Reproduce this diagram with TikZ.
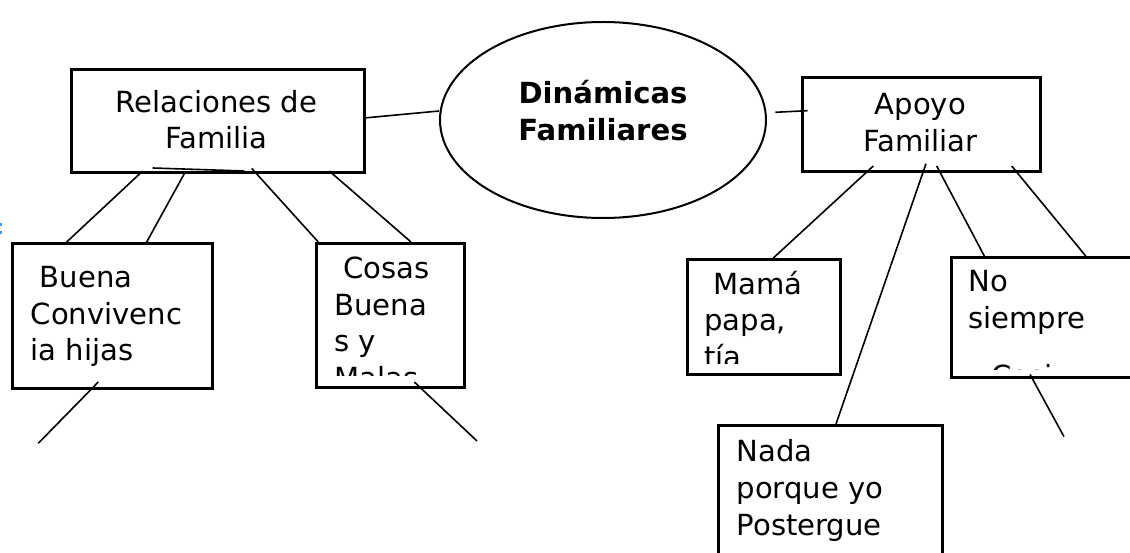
\documentclass[tikz,border=0pt]{standalone}
\usepackage{fontspec}
\setmainfont{DejaVu Sans}
\usetikzlibrary{shapes.geometric}
\definecolor{fragblue}{RGB}{79,146,222}
\begin{document}
\begin{tikzpicture}[x=1pt,y=-1pt,
  box/.style={draw=black,line width=2.7pt,rectangle,inner sep=0pt,anchor=north west},
  conn/.style={draw=black,line width=1.6pt},
  txt/.style={inner sep=0pt,anchor=base west,font=\fontsize{29.1}{36.6}\selectfont},
  ctxt/.style={txt,anchor=base},
  btxt/.style={ctxt,font=\fontsize{29.1}{36.6}\selectfont\bfseries}]
\clip (0,0) rectangle (1130,553);
\useasboundingbox (0,0) rectangle (1130,553);

% boxes
\node[box,minimum width=293pt,minimum height=103pt] (rel) at (70,68) {};
\node[draw,ellipse,line width=2pt,minimum width=326pt,minimum height=196pt,inner sep=0pt] (dyn) at (603,120) {};
\node[box,minimum width=238pt,minimum height=94pt] (apoyo) at (801,76) {};
\node[box,minimum width=200pt,minimum height=145pt] (buena) at (11,242) {};
\node[box,minimum width=148pt,minimum height=144pt] (cosas) at (315,242) {};
\node[box,minimum width=153pt,minimum height=115pt] (mama) at (686,258) {};
\node[box,minimum width=220pt,minimum height=120pt] (nosi) at (950,256) {};
\node[box,minimum width=224pt,minimum height=160pt] (nada) at (717,424) {};

% texts
\node[ctxt] (rel1) at (216.5,112.2) {Relaciones de};
\node[ctxt] (rel2) at (216.5,148.2) {Familia};
\node[btxt] (dyn1) at (603,104) {Dinámicas};
\node[btxt] (dyn2) at (603,140.7) {Familiares};
\node[ctxt] (apo1) at (920.3,115) {Apoyo};
\node[ctxt] (apo2) at (920.5,151.2) {Familiar};
\node[txt] (bue1) at (30.5,287.3) {\ Buena};
\node[txt] (bue2) at (30.5,325) {Convivenc};
\node[txt] (bue3) at (30.5,360.7) {ia hijas};
\begin{scope}
\clip (315,242) rectangle (463,375);
\node[txt] (cos1) at (334.2,278.3) {\ Cosas};
\node[txt] (cos2) at (334.2,315.7) {Buena};
\node[txt] (cos3) at (334.2,351.7) {s y};
\node[txt] (cos4) at (334.2,388.3) {Malas};
\end{scope}
\begin{scope}
\clip (686,258) rectangle (839,363.5);
\node[txt] (mam1) at (704.1,294.3) {\ Mamá};
\node[txt] (mam2) at (704.1,330.7) {papa,};
\node[txt] (mam3) at (704.1,367.3) {tía};
\end{scope}
\begin{scope}
\clip (950,256) rectangle (1130,369.5);
\node[txt] (nos1) at (968.2,291.7) {No};
\node[txt] (nos2) at (968.2,328.3) {siempre};
\node[txt] (nos3) at (991.4,386) {Casi};
\end{scope}
\node[txt] (nad1) at (736.5,461.7) {Nada};
\node[txt] (nad2) at (736.5,498.3) {porque yo};
\node[txt] (nad3) at (736.5,535) {Postergue};

% connectors
\draw[conn] ([shift={(0,-3)}]rel.east) -- ([shift={(0,-9)}]dyn.west);
\draw[conn] ([shift={(8.3,-7.7)}]dyn.east) -- ([shift={(6.7,-13.7)}]apoyo.west);
\draw[conn] ([shift={(82.7,-5.7)}]rel.south west) -- ([shift={(174.3,-2.7)}]rel.south west);
\draw[conn] ([shift={(72.7,-2.7)}]rel.south west) -- ([shift={(55.7,0)}]buena.north west);
\draw[conn] ([shift={(114.3,0)}]rel.south west) -- ([shift={(135.7,0)}]buena.north west);
\draw[conn] ([shift={(181.7,-5.3)}]rel.south west) -- ([shift={(3.3,0)}]cosas.north west);
\draw[conn] ([shift={(259.3,-2.7)}]rel.south west) -- ([shift={(96,0)}]cosas.north west);
\coordinate (buenaend) at (38.3,443.3);
\coordinate (cosasend) at (477,441);
\coordinate (nosiend) at (1064,436.7);
\draw[conn] ([shift={(87.3,-7.7)}]buena.south west) -- (buenaend);
\draw[conn] ([shift={(99.3,-6.7)}]cosas.south west) -- (cosasend);
\draw[conn] ([shift={(72.3,-6.7)}]apoyo.south west) -- ([shift={(87.3,0)}]mama.north west);
\draw[conn] ([shift={(125,-9)}]apoyo.south west) -- ([shift={(119,0)}]nada.north west);
\draw[conn] ([shift={(135.7,-6.7)}]apoyo.south west) -- ([shift={(34.3,0)}]nosi.north west);
\draw[conn] ([shift={(210.7,-6.7)}]apoyo.south west) -- ([shift={(135.7,0)}]nosi.north west);
\draw[conn] ([shift={(80,-4.3)}]nosi.south west) -- (nosiend);

% blue fragment at left edge
\fill[fragblue] (0,223.5) rectangle (1.8,226.5);
\fill[fragblue] (0,231.5) rectangle (1.8,234.5);
\end{tikzpicture}
\end{document}
